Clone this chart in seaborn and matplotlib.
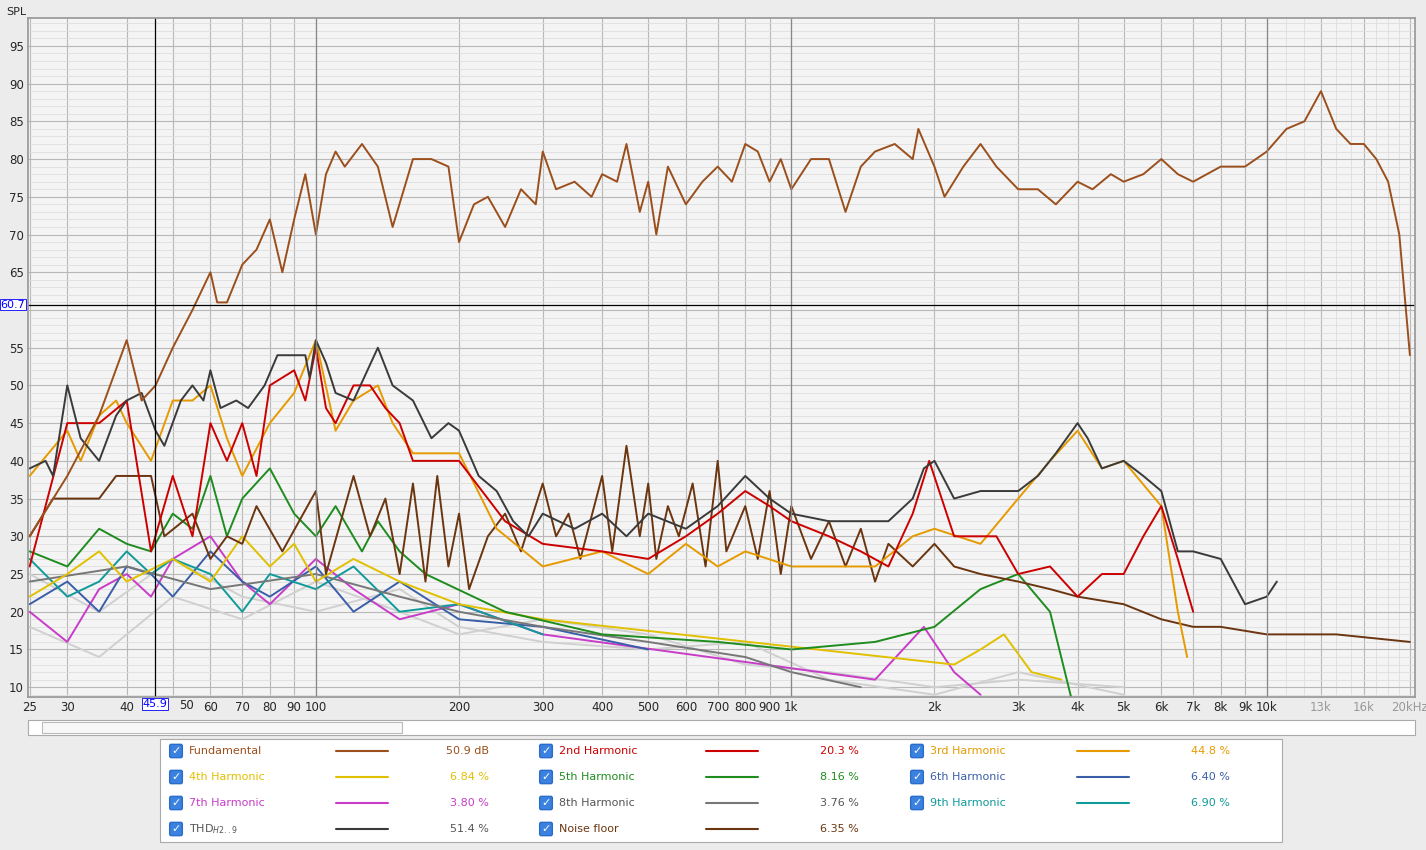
import numpy as np
import matplotlib
matplotlib.use("Agg")
import matplotlib.pyplot as plt
import seaborn as sns
import pandas as pd
from matplotlib.patches import Rectangle

sns.set_theme(style="white")
plt.rcParams['font.family'] = ['DejaVu Sans']

fund_f = [25,30,35,40,43,46,50,55,60,62,65,70,75,80,85,90,95,100,105,110,115,125,135,145,160,175,190,200,215,230,250,270,290,300,320,350,380,400,430,450,480,500,520,550,600,650,700,750,800,850,900,950,1000,1100,1200,1300,1400,1500,1650,1800,1850,2000,2100,2300,2500,2700,3000,3300,3600,4000,4300,4700,5000,5500,6000,6500,7000,8000,9000,10000,11000,12000,13000,14000,15000,16000,17000,18000,19000,20000]
fund_v = [30,38,46,56,48,50,55,60,65,61,61,66,68,72,65,72,78,70,78,81,79,82,79,71,80,80,79,69,74,75,71,76,74,81,76,77,75,78,77,82,73,77,70,79,74,77,79,77,82,81,77,80,76,80,80,73,79,81,82,80,84,79,75,79,82,79,76,76,74,77,76,78,77,78,80,78,77,79,79,81,84,85,89,84,82,82,80,77,70,54]

thd_f = [25,27,28,30,32,35,38,40,43,46,48,52,55,58,60,63,68,72,78,83,88,95,97,100,105,110,120,135,145,160,175,190,200,220,240,260,280,300,350,400,450,500,600,700,800,900,1000,1200,1400,1600,1800,1900,2000,2200,2500,3000,3300,3600,4000,4200,4500,5000,5500,6000,6500,7000,8000,9000,10000,10500]
thd_v = [39,40,38,50,43,40,46,48,49,44,42,48,50,48,52,47,48,47,50,54,54,54,51,56,53,49,48,55,50,48,43,45,44,38,36,32,30,33,31,33,30,33,31,34,38,35,33,32,32,32,35,39,40,35,36,36,38,41,45,43,39,40,38,36,28,28,27,21,22,24]

h2_f = [25,30,35,40,45,50,55,60,65,70,75,80,90,95,100,105,110,120,130,140,150,160,180,200,250,300,400,500,600,700,800,900,1000,1200,1400,1600,1800,1950,2200,2700,3000,3500,4000,4500,5000,5500,6000,6500,7000]
h2_v = [26,45,45,48,28,38,30,45,40,45,38,50,52,48,55,47,45,50,50,47,45,40,40,40,32,29,28,27,30,33,36,34,32,30,28,26,33,40,30,30,25,26,22,25,25,30,34,27,20]

h3_f = [25,30,32,35,38,40,45,50,55,60,65,70,80,90,100,110,120,135,145,160,200,240,300,400,500,600,700,800,1000,1500,1800,2000,2500,3000,3500,4000,4500,5000,6000,6500,6800]
h3_v = [38,44,40,46,48,45,40,48,48,50,43,38,45,49,56,44,48,50,45,41,41,31,26,28,25,29,26,28,26,26,30,31,29,35,40,44,39,40,34,20,14]

h4_f = [25,30,35,40,50,60,70,80,90,100,120,150,200,300,2200,2500,2800,3200,3700]
h4_v = [22,25,28,24,27,24,30,26,29,24,27,24,21,19,13,15,17,12,11]

h5_f = [25,30,35,40,45,50,55,60,65,70,80,90,100,110,125,135,150,170,250,400,700,1000,1500,2000,2500,3000,3500,3900]
h5_v = [28,26,31,29,28,33,31,38,30,35,39,33,30,34,28,32,28,25,20,17,16,15,16,18,23,25,20,8]

h6_f = [25,30,35,40,45,50,60,70,80,100,120,150,200,300,500]
h6_v = [21,24,20,26,25,22,28,24,22,26,20,24,19,18,15]

h7_f = [25,30,35,40,45,50,60,70,80,100,120,150,200,300,1500,1900,2200,2500]
h7_v = [20,16,23,25,22,27,30,24,21,27,23,19,21,17,11,18,12,9]

h8_f = [25,40,60,100,150,200,300,500,800,1000,1400]
h8_v = [24,26,23,25,22,20,18,16,14,12,10]

h9_f = [25,30,35,40,45,50,60,70,80,100,120,150,200,300]
h9_v = [27,22,24,28,25,27,25,20,25,23,26,20,21,17]

noise_f = [25,28,35,38,45,48,55,60,65,70,75,85,100,105,120,130,140,150,160,170,180,190,200,210,230,250,270,300,320,340,360,400,420,450,480,500,520,550,580,620,660,700,730,800,850,900,950,1000,1100,1200,1300,1400,1500,1600,1800,2000,2200,2500,3000,3500,4000,5000,6000,7000,8000,10000,14000,20000]
noise_v = [30,35,35,38,38,30,33,27,30,29,34,28,36,25,38,30,35,25,37,24,38,26,33,23,30,33,28,37,30,33,27,38,28,42,30,37,27,34,30,37,26,40,28,34,27,36,25,34,27,32,26,31,24,29,26,29,26,25,24,23,22,21,19,18,18,17,17,16]

grey_f = [25,35,50,70,100,150,200,300,500,800,1200,2000,3000,5000]
grey_v1 = [18,14,22,19,24,20,17,19,17,13,12,10,11,10]
grey_v2 = [25,20,27,22,20,23,18,16,15,16,11,9,12,9]

series = [
    ("Fundamental", fund_f, fund_v, "#9b4f1c", "50.9 dB"),
    ("2nd Harmonic", h2_f, h2_v, "#cc0000", "20.3 %"),
    ("3rd Harmonic", h3_f, h3_v, "#e69a00", "44.8 %"),
    ("4th Harmonic", h4_f, h4_v, "#e0c000", "6.84 %"),
    ("5th Harmonic", h5_f, h5_v, "#1e8c1e", "8.16 %"),
    ("6th Harmonic", h6_f, h6_v, "#3a5fa8", "6.40 %"),
    ("7th Harmonic", h7_f, h7_v, "#c83cc8", "3.80 %"),
    ("8th Harmonic", h8_f, h8_v, "#777777", "3.76 %"),
    ("9th Harmonic", h9_f, h9_v, "#109a9a", "6.90 %"),
    ("THD$_{H2..9}$", thd_f, thd_v, "#3a3a3a", "51.4 %"),
    ("Noise floor", noise_f, noise_v, "#6b3510", "6.35 %"),
]

fig = plt.figure(figsize=(14.26, 8.5), dpi=100)
fig.patch.set_facecolor("#ececec")
ax = fig.add_axes([28/1426, 153/850, 1387/1426, 679/850])
ax.set_facecolor("#f4f4f4")
ax.set_xscale("log")
ax.set_xlim(24.8, 20500)
ax.set_ylim(8.7, 98.7)

for gv in (grey_v1, grey_v2):
    sns.lineplot(x=grey_f, y=gv, ax=ax, color="#d0d0d0", lw=1.4)
order = [6, 5, 8, 7, 3, 4, 10, 2, 1, 9, 0]
for i in order:
    name, f, v, c, _ = series[i]
    sns.lineplot(x=f, y=v, ax=ax, color=c, lw=1.4)

yt = np.arange(10, 96, 5)
ax.set_yticks(yt)
ax.set_yticklabels(["" if t == 60 else str(t) for t in yt])
ax.set_yticks(np.arange(9, 99, 1), minor=True)
xt = [25,30,40,50,60,70,80,90,100,200,300,400,500,600,700,800,900,1000,2000,3000,4000,5000,6000,7000,8000,9000,10000,13000,16000,20000]
xl = ["25","30","40","","60","70","80","90","100","200","300","400","500","600","700","800","900","1k","2k","3k","4k","5k","6k","7k","8k","9k","10k","13k","16k","20kHz"]
ax.set_xticks(xt)
ax.set_xticklabels(xl, fontsize=8.5)
ax.set_xticks([f*m for f in (10,100,1000,10000) for m in range(2,10) if 24.8 < f*m < 20500] + [11000,12000,14000,15000,17000,18000,19000], minor=True)
ax.xaxis.set_minor_formatter(matplotlib.ticker.NullFormatter())
for lab in ax.get_xticklabels()[-3:]:
    lab.set_color("#999999")
ax.tick_params(axis='both', labelsize=8.5, length=0, pad=3)
ax.grid(which="major", color="#b8b8b8", lw=0.8)
ax.grid(which="minor", color="#dedede", lw=0.6)
for xm in (100, 1000, 10000):
    ax.axvline(xm, color="#888888", lw=0.9)
ax.set_axisbelow(True)
ax.axvline(45.9, color="black", lw=0.9)
ax.axhline(60.7, color="black", lw=0.9)
ax.text(-0.002, 60.7, "60.7", transform=ax.get_yaxis_transform(), ha="right", va="center", fontsize=8,
        color="blue", bbox=dict(facecolor="white", edgecolor="blue", pad=0.5, lw=0.6))
ax.text(45.9, -0.003, "45.9", transform=ax.get_xaxis_transform(), ha="center", va="top", fontsize=8,
        color="blue", bbox=dict(facecolor="white", edgecolor="blue", pad=0.5, lw=0.6))
ax.text(51.5, -0.003, "50", transform=ax.get_xaxis_transform(), ha="left", va="top", fontsize=8.5)
fig.text(6/1426, 1-12/850, "SPL", fontsize=8, va="center")
for s in ax.spines.values():
    s.set_color("#999999")

fig.patches.append(Rectangle((28/1426, 115/850), 1387/1426, 15/850, transform=fig.transFigure,
                             facecolor="white", edgecolor="#aaaaaa", lw=0.8))
fig.patches.append(Rectangle((42/1426, 117/850), 360/1426, 11/850, transform=fig.transFigure,
                             facecolor="#f8f8f8", edgecolor="#bbbbbb", lw=0.8))

fig.patches.append(Rectangle((160/1426, 8/850), 1122/1426, 103/850, transform=fig.transFigure,
                             facecolor="white", edgecolor="#aaaaaa", lw=0.8))
col_x = [176, 546, 917]
row_y = [751, 777, 803, 829]
for k, (name, f, v, c, val) in enumerate(series):
    r, cidx = divmod(k, 3)
    x0 = col_x[cidx]; y0 = row_y[r]
    tc = "#555555" if name.startswith("8th") or name.startswith("THD") else c
    fig.text(x0/1426, 1-y0/850, "✓", fontsize=8, color="white", ha="center", va="center", fontweight="bold",
             bbox=dict(boxstyle="round,pad=0.15", facecolor="#3b82e0", edgecolor="#2a6cc8"))
    fig.text((x0+13)/1426, 1-y0/850, name, fontsize=8, color=tc, va="center")
    fig.lines.append(plt.Line2D([(x0+160)/1426, (x0+212)/1426], [1-y0/850]*2, transform=fig.transFigure, color=c, lw=1.5))
    fig.text((x0+313)/1426, 1-y0/850, val, fontsize=8, color=tc, va="center", ha="right")

fig.savefig("out.png", dpi=100, facecolor=fig.get_facecolor())
